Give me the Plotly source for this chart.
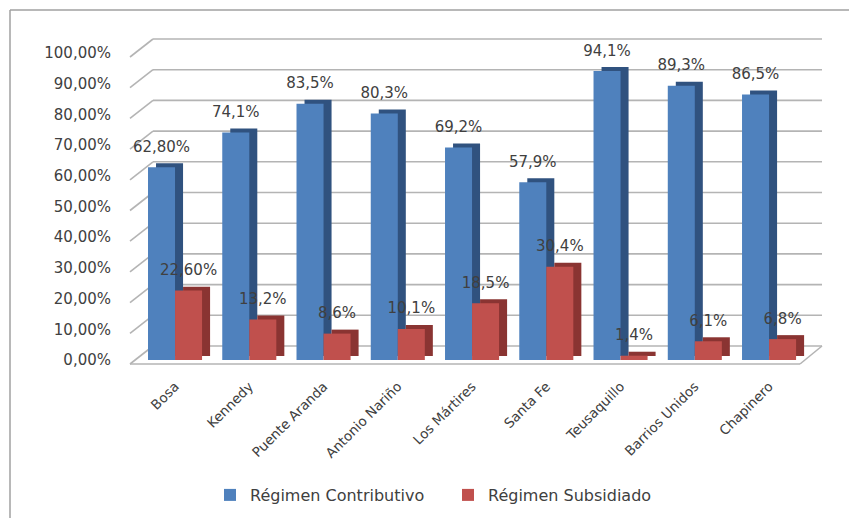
import plotly.graph_objects as go

categories = ["Bosa", "Kennedy", "Puente Aranda", "Antonio Nariño", "Los Mártires",
              "Santa Fe", "Teusaquillo", "Barrios Unidos", "Chapinero"]
contributivo = [62.8, 74.1, 83.5, 80.3, 69.2, 57.9, 94.1, 89.3, 86.5]
subsidiado = [22.6, 13.2, 8.6, 10.1, 18.5, 30.4, 1.4, 6.1, 6.8]
contributivo_labels = ["62,80%", "74,1%", "83,5%", "80,3%", "69,2%", "57,9%", "94,1%", "89,3%", "86,5%"]
subsidiado_labels = ["22,60%", "13,2%", "8,6%", "10,1%", "18,5%", "30,4%", "1,4%", "6,1%", "6,8%"]
y_tickvals = [0, 10, 20, 30, 40, 50, 60, 70, 80, 90, 100]
y_ticktext = ["0,00%", "10,00%", "20,00%", "30,00%", "40,00%", "50,00%",
              "60,00%", "70,00%", "80,00%", "90,00%", "100,00%"]

# ---- layout geometry (style) ----
W, H = 849, 518
ML, MR, MT, MB = 116, 27, 53, 158
PW, PH = W - ML - MR, H - MT - MB
X0, X1 = -0.795, 8.713
Y0, Y1 = 0, 100
BW = 0.364        # bar width (category units)
DX = 0.108        # depth shift right (category units)
DY = 1.3          # depth shift up (value units)

BLUE, BLUE_D = "#4F81BD", "#30527F"
RED, RED_D = "#C0504D", "#8A3432"
TXT = "#404040"
GRID = "#B4B4B4"
FONT = "DejaVu Sans"


def px_x(p):
    return (p - ML) / PW


def val_y(v, off_px=0.0):
    return (v - Y0) / (Y1 - Y0) + off_px / PH


def px_y(p):
    return (H - MB - p) / PH


fig = go.Figure()

common = dict(x=categories, width=BW, hoverinfo="skip", showlegend=False)

fig.add_trace(go.Bar(y=contributivo, base=DY, offset=-BW + DX, marker=dict(color=BLUE_D, line_width=0), **common))
fig.add_trace(go.Bar(x=categories, y=contributivo, width=BW, offset=-BW, name="Régimen Contributivo",
                     marker=dict(color=BLUE, line_width=0), showlegend=True))
fig.add_trace(go.Bar(y=subsidiado, base=DY, offset=DX, marker=dict(color=RED_D, line_width=0), **common))
fig.add_trace(go.Bar(x=categories, y=subsidiado, width=BW, offset=0, name="Régimen Subsidiado",
                     marker=dict(color=RED, line_width=0), showlegend=True))

for vals, labels, off in [(contributivo, contributivo_labels, -BW), (subsidiado, subsidiado_labels, 0)]:
    fig.add_trace(go.Bar(y=[DY + 1.5] * len(vals), base=vals, offset=off, text=labels,
                         textposition="outside", constraintext="none", cliponaxis=False,
                         textfont=dict(color=TXT, size=15, family=FONT),
                         marker=dict(color="rgba(0,0,0,0)", line_width=0), **common))

shapes = []
back_l, back_r, front_l, front_r = 153, 822, 130, 800
back_off, front_off = 14, -4
for v in y_tickvals:
    shapes.append(dict(type="line", xref="paper", yref="paper",
                       x0=px_x(back_l), x1=px_x(back_r), y0=val_y(v, back_off), y1=val_y(v, back_off),
                       line=dict(color=GRID, width=1.6), layer="below"))
    shapes.append(dict(type="line", xref="paper", yref="paper",
                       x0=px_x(front_l), x1=px_x(back_l), y0=val_y(v, front_off), y1=val_y(v, back_off),
                       line=dict(color=GRID, width=1.6), layer="below"))
# floor front edge and right edge
shapes.append(dict(type="line", xref="paper", yref="paper",
                   x0=px_x(front_l), x1=px_x(front_r), y0=val_y(0, front_off), y1=val_y(0, front_off),
                   line=dict(color=GRID, width=1.6), layer="below"))
shapes.append(dict(type="line", xref="paper", yref="paper",
                   x0=px_x(front_r), x1=px_x(back_r), y0=val_y(0, front_off), y1=val_y(0, back_off),
                   line=dict(color=GRID, width=1.6), layer="below"))
# outer chart border (left and top)
shapes.append(dict(type="line", xref="paper", yref="paper",
                   x0=px_x(10), x1=px_x(10), y0=px_y(10), y1=px_y(H),
                   line=dict(color="#A0A0A0", width=1.5)))
shapes.append(dict(type="line", xref="paper", yref="paper",
                   x0=px_x(10), x1=px_x(W), y0=px_y(10), y1=px_y(10),
                   line=dict(color="#A0A0A0", width=1.5)))

fig.update_layout(
    width=W, height=H,
    margin=dict(l=ML, r=MR, t=MT, b=MB, autoexpand=False),
    barmode="overlay",
    paper_bgcolor="white", plot_bgcolor="rgba(0,0,0,0)",
    font=dict(family=FONT, color=TXT, size=15),
    shapes=shapes,
    xaxis=dict(type="category", range=[X0, X1], showgrid=False, showline=False, zeroline=False,
               ticks="", tickangle=-45, ticklabelstandoff=15, tickfont=dict(size=13.5, color=TXT)),
    yaxis=dict(range=[Y0, Y1], tickvals=y_tickvals, ticktext=y_ticktext, showgrid=False,
               showline=False, zeroline=False, ticks="", ticklabelstandoff=4,
               tickfont=dict(size=15, color=TXT)),
    legend=dict(orientation="h", x=px_x(210), xanchor="left", y=px_y(495), yanchor="middle",
                font=dict(size=16, color=TXT), traceorder="normal", bgcolor="rgba(0,0,0,0)",
                entrywidth=193, itemwidth=30),
    showlegend=True,
)

fig.write_html("out.html", config={"displayModeBar": False},
               post_script="document.body.style.margin='0';")
